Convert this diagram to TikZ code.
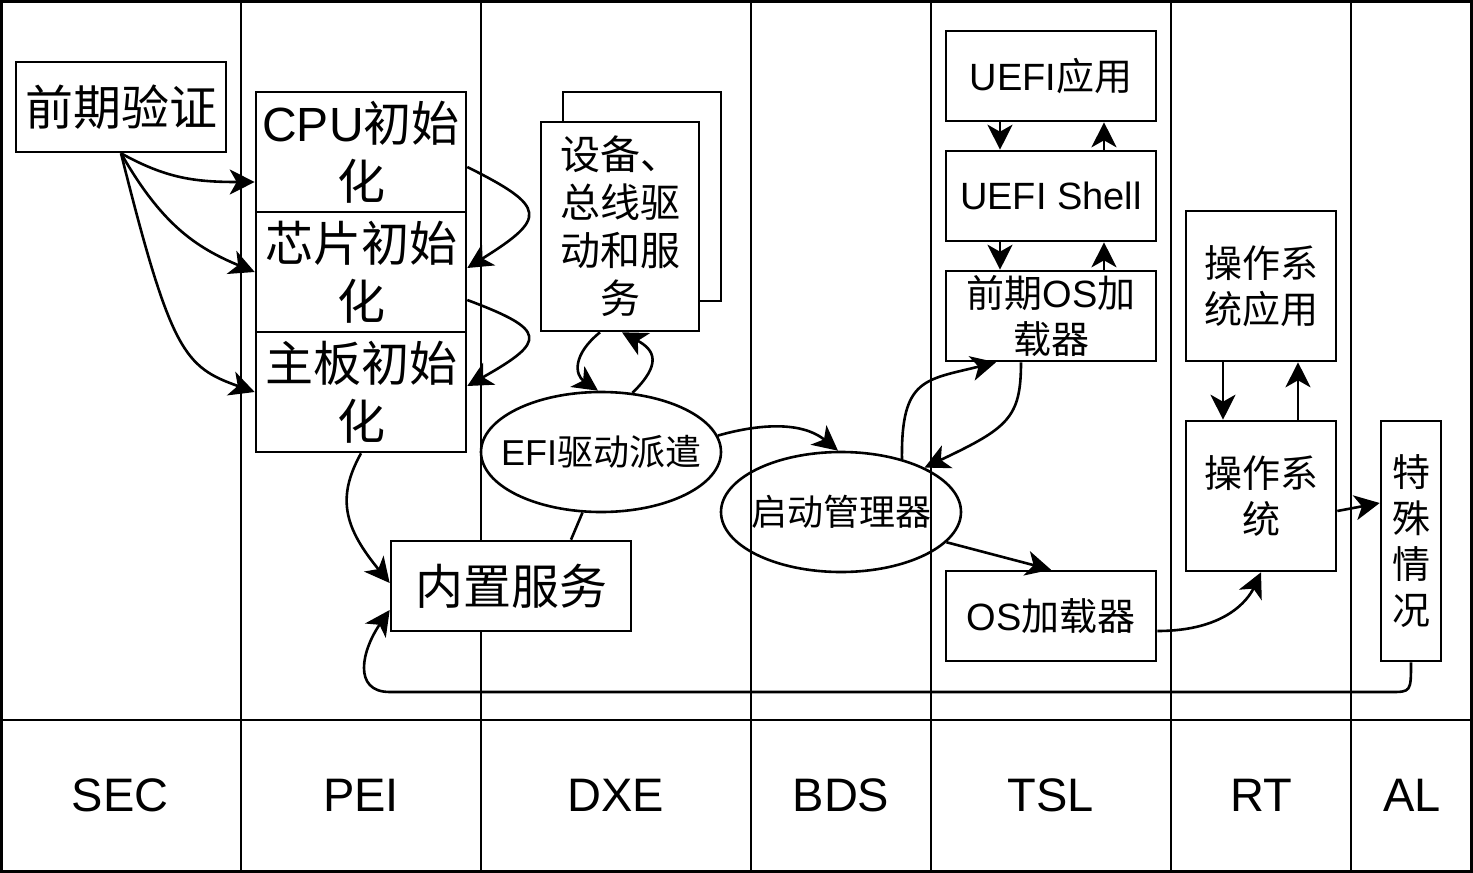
\documentclass[tikz,border=0pt]{standalone}
\usepackage{fontspec}
\usepackage{tikz}
\setmainfont{Liberation Sans}
\newfontfamily\zhfont{Noto Sans CJK SC}
\usetikzlibrary{arrows.meta,shapes.geometric}

\newcommand{\sizeA}{\fontsize{48pt}{58pt}\selectfont}
\newcommand{\sizeB}{\fontsize{40pt}{48pt}\selectfont}
\newcommand{\sizeC}{\fontsize{38pt}{46pt}\selectfont}
\newcommand{\sizeD}{\fontsize{36pt}{43pt}\selectfont}
\newcommand{\sizeL}{\fontsize{47pt}{56pt}\selectfont}

\tikzset{
  lane/.style={line width=2.6pt},
  box/.style={draw, line width=2.6pt, fill=white, inner sep=0pt, align=center},
  oval/.style={draw, ellipse, line width=2.6pt, inner sep=0pt,
    minimum width=240pt, minimum height=120pt},
  link/.style={line width=2.6pt, -{Stealth[length=25pt,width=25pt,inset=7pt]}},
  plain/.style={line width=2.6pt},
}

\begin{document}
\begin{tikzpicture}[x=1pt,y=-1pt]
    \useasboundingbox (0,0) rectangle (1473,873);
    % swim lanes
    \draw[lane] (1.3,1.3) rectangle (1471.7,871.7);
    \draw[lane] (0,720) -- (1473,720);
    \foreach \x in {241,481,751,931,1171,1351}
        \draw[lane] (\x,0) -- (\x,873);
    \foreach \x/\phase in {120/SEC,361/PEI,616/DXE,841/BDS,1051/TSL,1261/RT,1412/AL}
        \node[font=\sizeL] (\phase) at (\x,795) {\phase};

    % SEC and PEI
    \node[box, minimum width=210pt, minimum height=90pt, font=\sizeA\zhfont] (verify) at (121,107) {前期验证};
    \node[box, minimum width=210pt, minimum height=120pt, font=\sizeA] (cpu) at (361,152) {CPU{\zhfont 初始}\\{\zhfont 化}};
    \node[box, minimum width=210pt, minimum height=120pt, font=\sizeA\zhfont] (chip) at (361,272) {芯片初始\\化};
    \node[box, minimum width=210pt, minimum height=120pt, font=\sizeA\zhfont] (board) at (361,392) {主板初始\\化};

    % DXE
    \node[box, minimum width=158pt, minimum height=209pt] (devback) at (642,196.5) {};
    \node[box, minimum width=158pt, minimum height=209pt, font=\sizeB\zhfont] (dev) at (620,226.5) {设备、\\总线驱\\动和服\\务};
    \node[oval, font=\sizeD] (efi) at (601,452) {\makebox[0pt]{EFI{\zhfont 驱动派遣}}};
    \node[box, minimum width=240pt, minimum height=90pt, font=\sizeA\zhfont] (builtin) at (511,586) {内置服务};

    % BDS
    \node[oval, font=\sizeD\zhfont] (boot) at (841,512) {\makebox[0pt]{启动管理器}};

    % TSL
    \node[box, minimum width=210pt, minimum height=90pt, font=\sizeC] (uefiapp) at (1051,76) {UEFI{\zhfont 应用}};
    \node[box, minimum width=210pt, minimum height=90pt, font=\sizeC] (shell) at (1051,196) {UEFI Shell};
    \node[box, minimum width=210pt, minimum height=90pt, font=\sizeC] (preos) at (1051,316) {{\zhfont 前期}OS{\zhfont 加}\\{\zhfont 载器}};
    \node[box, minimum width=210pt, minimum height=90pt, font=\sizeC] (osloader) at (1051,616) {OS{\zhfont 加载器}};

    % RT and AL
    \node[box, minimum width=150pt, minimum height=150pt, font=\sizeC\zhfont] (osapp) at (1261,286) {操作系\\统应用};
    \node[box, minimum width=150pt, minimum height=150pt, font=\sizeC\zhfont] (os) at (1261,496) {操作系\\统};
    \node[box, minimum width=60pt, minimum height=240pt, font=\sizeC\zhfont] (special) at (1411,541) {特\\殊\\情\\况};

    % SEC -> PEI
    \draw[link] (verify.south) .. controls +(45,25) and +(-60,0) .. ([yshift=-30pt]cpu.west);
    \draw[link] (verify.south) .. controls +(40,70) and +(-60,-25) .. (chip.west);
    \draw[link] (verify.south) .. controls +(50,200) and +(-70,-25) .. (board.west);
    \draw[link] ([yshift=-15pt]cpu.east) .. controls +(80,40) and +(80,-50) .. ([yshift=4pt]chip.east);
    \draw[link] ([yshift=-28pt]chip.east) .. controls +(80,30) and +(80,-45) .. ([yshift=6pt]board.east);
    \draw[link] (board.south) .. controls +(-25,45) and +(-45,-55) .. ([yshift=3pt]builtin.west);

    % DXE
    \draw[link] ([xshift=-20pt]dev.south) .. controls (572,355) and (575,375) .. ([xshift=-3pt]efi.north);
    \draw[link] (efi.62) .. controls (662,364) and (655,350) .. ([xshift=2pt]dev.south);
    \draw[plain] (efi.-107) -- ([xshift=60pt]builtin.north);
    \draw[link] (efi.8) .. controls (755,425) and (800,420) .. ([xshift=-3pt]boot.north);

    % BDS <-> TSL
    \draw[link] (boot.41) .. controls (901,378) and (925,380) .. ([xshift=-55pt]preos.south);
    \draw[link] ([xshift=-30pt]preos.south) .. controls (1021,418) and (1008,428) .. (boot.28);
    \draw[link] (boot.-16) -- (osloader.north);

    % inside TSL
    \draw[link] ([xshift=-51pt]uefiapp.south) -- ([xshift=-51pt]shell.north);
    \draw[link] ([xshift=53pt]shell.north) -- ([xshift=53pt]uefiapp.south);
    \draw[link] ([xshift=-51pt]shell.south) -- ([xshift=-51pt]preos.north);
    \draw[link] ([xshift=53pt]preos.north) -- ([xshift=53pt]shell.south);

    % TSL -> RT -> AL
    \draw[link] ([yshift=-15pt]osloader.east) .. controls (1225,631) and (1248,600) .. (os.south);
    \draw[link] ([xshift=-38pt]osapp.south) -- ([xshift=-38pt]os.north);
    \draw[link] ([xshift=37pt]os.north) -- ([xshift=37pt]osapp.south);
    \draw[link] ([yshift=-15pt]os.east) -- ([yshift=38pt]special.west);

    % back to the built-in services
    \draw[link] (special.south) .. controls (1411,692) .. (1390,692) -- (390,692)
        .. controls (352,692) and (362,650) .. ([yshift=-24pt]builtin.west);
\end{tikzpicture}
\end{document}
